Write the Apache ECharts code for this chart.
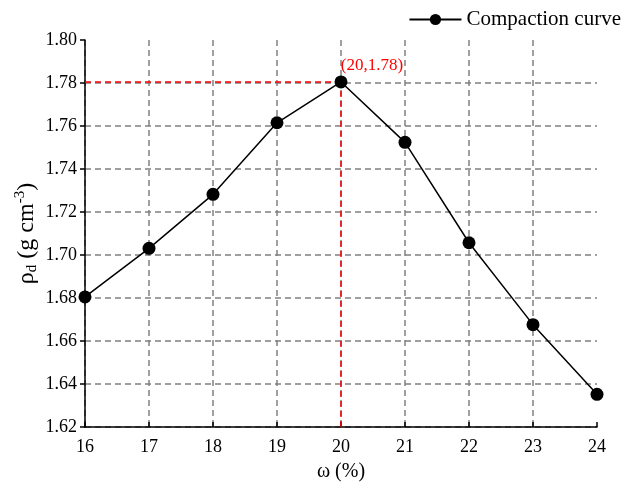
<!DOCTYPE html>
<html>
<head>
<meta charset="utf-8">
<script src="https://cdn.jsdelivr.net/npm/echarts@6/dist/echarts.min.js"></script>
<style>
html,body{margin:0;padding:0;background:#fff;}
#chart{width:632px;height:487px;}
</style>
</head>
<body>
<div id="chart"></div>
<script>
const moisture = [16, 17, 18, 19, 20, 21, 22, 23, 24];
const density = [1.6805, 1.7031, 1.7282, 1.7615, 1.7805, 1.7524, 1.7057, 1.6676, 1.6352];
const peakLabel = '(20,1.78)';
const seriesName = 'Compaction curve';

const peakIdx = density.indexOf(Math.max(...density));
const peakX = moisture[peakIdx];
const peakY = density[peakIdx];
const xMin = 16, xMax = 24, yMin = 1.62, yMax = 1.80;

const font = 'Liberation Serif, Times New Roman, serif';
const chart = echarts.init(document.getElementById('chart'));

const seriesData = moisture.map((x, i) => {
  const item = { value: [x, density[i]] };
  if (i === peakIdx) {
    item.label = {
      show: true, formatter: peakLabel, position: 'top', offset: [31, 4],
      color: '#ff0000', fontFamily: font, fontSize: 17
    };
  }
  return item;
});

chart.setOption({
  animation: false,
  backgroundColor: '#fff',
  grid: { left: 85, right: 35, top: 40, bottom: 60, containLabel: false },
  legend: {
    right: 6, top: 4,
    itemWidth: 52, itemHeight: 14, itemGap: 4,
    textStyle: { fontFamily: font, fontSize: 21, color: '#000' },
    data: [seriesName]
  },
  xAxis: {
    type: 'value', min: xMin, max: xMax, interval: 1,
    name: 'ω (%)', nameLocation: 'middle', nameGap: 35, nameMoveOverlap: false,
    nameTextStyle: { fontFamily: font, fontSize: 20, color: '#000' },
    axisLine: { show: true, lineStyle: { color: '#000', width: 1.5 } },
    axisTick: { show: true, inside: true, length: 5, lineStyle: { color: '#000', width: 1.5 } },
    axisLabel: { fontFamily: font, fontSize: 18, color: '#000', margin: 11 },
    splitLine: { show: true, showMaxLine: false, lineStyle: { color: '#808080', width: 1.5, type: [6, 4] } }
  },
  yAxis: {
    type: 'value', min: yMin, max: yMax, interval: 0.02,
    name: '{a|ρ}{s|d}{a| (g cm}{p|-3}{a|)}', nameLocation: 'middle', nameGap: 45, nameRotate: 90,
    nameMoveOverlap: false,
    nameTextStyle: {
      fontFamily: font, fontSize: 24, color: '#000',
      rich: {
        a: { fontFamily: font, fontSize: 24, color: '#000' },
        s: { fontFamily: font, fontSize: 15, color: '#000', verticalAlign: 'bottom', padding: [12, 0, 0, 0] },
        p: { fontFamily: font, fontSize: 15, color: '#000', verticalAlign: 'top', padding: [0, 0, 10, 0] }
      }
    },
    axisLine: { show: true, lineStyle: { color: '#000', width: 1.5 } },
    axisTick: { show: true, inside: false, length: 5, lineStyle: { color: '#000', width: 1.5 } },
    axisLabel: { fontFamily: font, fontSize: 18, color: '#000', margin: 8, formatter: v => v.toFixed(2) },
    splitLine: { show: true, showMaxLine: false, lineStyle: { color: '#808080', width: 1.5, type: [6, 4] } }
  },
  series: [{
    name: seriesName,
    type: 'line',
    data: seriesData,
    symbol: 'circle', symbolSize: 13,
    itemStyle: { color: '#000' },
    lineStyle: { color: '#000', width: 1.5 },
    z: 5,
    markLine: {
      silent: true, symbol: 'none', animation: false,
      label: { show: false },
      lineStyle: { color: '#ff0000', width: 1.5, type: [6, 4] },
      z: 3,
      data: [
        [{ coord: [xMin, peakY] }, { coord: [peakX, peakY] }],
        [{ coord: [peakX, yMin] }, { coord: [peakX, peakY] }]
      ]
    }
  }]
});
</script>
</body>
</html>
